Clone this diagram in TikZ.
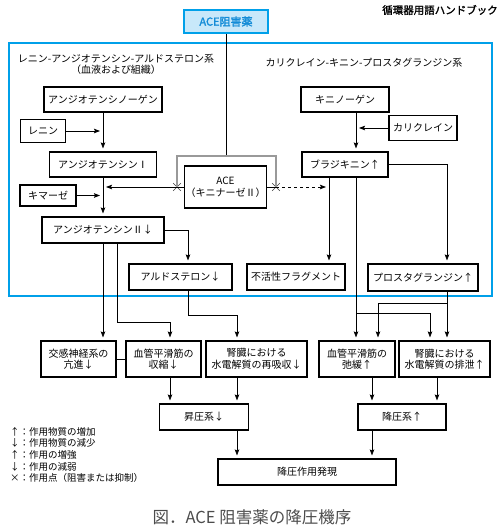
\documentclass[tikz,border=0pt]{standalone}
\usepackage{fontspec}
\setmainfont{Noto Sans CJK JP}
\newfontfamily\titlefont[FakeBold=1.6]{Noto Sans CJK JP}
\usepackage{xcolor}
\usetikzlibrary{arrows.meta,shapes.misc}
\definecolor{aceblue}{RGB}{0,160,233}
\definecolor{acefill}{RGB}{200,232,250}
\definecolor{acetext}{RGB}{20,140,215}

\begin{document}
\begin{tikzpicture}[
    x=1pt, y=-1pt,
    >={Stealth[length=6pt,width=4.5pt,inset=1pt]},
    font=\fontsize{10}{11.5}\selectfont,
    box/.style={draw, line width=1.1pt, inner sep=1pt, align=center},
    arrow/.style={->, line width=0.8pt, shorten >=3pt},
    link/.style={line width=0.8pt},
    stopmark/.style={cross out, draw, line width=0.6pt, minimum size=7pt,
                     inner sep=0pt},
  ]
  \useasboundingbox (0,0) rectangle (500,530);

  % drug and frame
  \node[font=\titlefont\fontsize{10.5}{12}\selectfont]
    (book) at (440,10) {循環器用語ハンドブック};
  \node[box, line width=1.8pt, draw=aceblue, fill=acefill, text=acetext,
        minimum width=84pt, minimum height=23pt,
        font=\titlefont\fontsize{11}{12}\selectfont] (acei) at (226,21.5) {ACE阻害薬};
  \draw[aceblue, line width=1.2pt] (9,43) rectangle (492,296);

  \node[align=center] (raas) at (116,64.5)
    {レニン-アンジオテンシン-アルドステロン系\\（血液および組織）};
  \node (kks) at (364,63) {カリクレイン-キニン-プロスタグランジン系};

  % left side
  \node[box, minimum width=118pt, minimum height=25pt] (agen) at (103,99.5) {アンジオテンシノーゲン};
  \node[box, minimum width=45pt, minimum height=23pt] (renin) at (43,131) {レニン};
  \node[box, minimum width=107pt, minimum height=25pt] (ang1) at (103,164.5) {アンジオテンシンⅠ};
  \node[box, minimum width=56pt, minimum height=21pt] (chym) at (48,195.5) {キマーゼ};
  \node[box, minimum width=122pt, minimum height=26pt] (ang2) at (103,230) {アンジオテンシンⅡ↓};
  \node[box, minimum width=103pt, minimum height=26pt] (aldo) at (180.5,277) {アルドステロン↓};

  % ACE
  \node[box, minimum width=81pt, minimum height=42pt] (ace) at (225.5,187)
    {ACE\\（キニナーゼⅡ）};
  \node[stopmark, draw=black!75] (xl) at (177,187) {};
  \node[stopmark, draw=black!75] (xr) at (276,187) {};
  \coordinate (brk) at (226,156);

  % right side
  \node[box, minimum width=88pt, minimum height=25pt] (kgen) at (345,99.5) {キニノーゲン};
  \node[box, minimum width=68pt, minimum height=25pt] (kallik) at (423,128) {カリクレイン};
  \node[box, minimum width=86pt, minimum height=25pt] (brady) at (345,164.5) {ブラジキニン↑};
  \node[box, minimum width=98pt, minimum height=26pt] (frag) at (296,277) {不活性フラグメント};
  \node[box, minimum width=110pt, minimum height=27pt] (pg) at (423,277.5) {プロスタグランジン↑};
  \coordinate (kx) at ([xshift=11pt]kgen.south);
  \coordinate (bx) at ([xshift=-16pt]brady.south);

  % effects
  \node[box, minimum width=75pt, minimum height=36pt] (symp) at (78.5,359) {交感神経系の\\亢進↓};
  \node[box, minimum width=75pt, minimum height=36pt] (vcon) at (163.5,359) {血管平滑筋の\\収縮↓};
  \node[box, minimum width=101pt, minimum height=36pt] (reab) at (256.5,359) {腎臓における\\水電解質の再吸収↓};
  \node[box, minimum width=76pt, minimum height=36pt] (vrel) at (357,359) {血管平滑筋の\\弛緩↑};
  \node[box, minimum width=91pt, minimum height=36pt] (excr) at (444.5,359) {腎臓における\\水電解質の排泄↑};
  \node[box, minimum width=89pt, minimum height=26pt] (pres) at (204,417) {昇圧系↓};
  \node[box, minimum width=88pt, minimum height=26pt] (depr) at (402,417) {降圧系↑};
  \node[box, minimum width=178pt, minimum height=26pt] (hypo) at (307,472) {降圧作用発現};

  \node[anchor=north west, align=left, inner sep=0pt,
        font=\fontsize{9.5}{11.6}\selectfont] (legend) at (10,427)
    {↑：作用物質の増加\\↓：作用物質の減少\\↑：作用の増強\\↓：作用の減弱\\×：作用点（阻害または抑制）};
  \node[text=black!70, font=\fontsize{16.5}{18}\selectfont] (caption) at (252,517)
    {図．ACE 阻害薬の降圧機序};

  % ACE inhibitor to ACE
  \draw[link] (acei.south) -- (brk);
  \draw[link, black!40, line width=1.2pt] (xl.center) |- (brk) -| (xr.center);

  % renin-angiotensin chain
  \draw[arrow] (agen.south) -- (ang1.north);
  \draw[arrow] (renin.east) -- (renin.east -| agen.south);
  \draw[arrow] (ang1.south) -- (ang2.north);
  \draw[arrow] (chym.east) -- (chym.east -| ang1.south);
  \draw[arrow] (ace.west) -- (ace.west -| ang1.south);
  \draw[arrow] (ang2.east) -| ([xshift=7.5pt]aldo.north);

  % kinin chain
  \draw[arrow] (kx) -- (kx |- brady.north);
  \draw[arrow] (kallik.west) -- (kallik.west -| kx);
  \draw[link] (ace.east) -- (xr.center);
  \draw[arrow, dashed] (xr.center) -- (xr.center -| bx);
  \draw[arrow] (bx) -- (bx |- frag.north);
  \draw[arrow] (brady.east) -| ([xshift=24pt]pg.north);

  % to the effects
  \draw[arrow] (ang2.south) -- (ang2.south |- symp.north);
  \draw[arrow] ([xshift=14pt]ang2.south) -- ++(0,79) -| ([xshift=6.5pt]vcon.north);
  \draw[arrow] ([xshift=7.5pt]aldo.south) -- ++(0,25) -| ([xshift=-19.5pt]reab.north);
  \draw[link] (symp.east) -- (vcon.west);
  \coordinate (kb) at (356,313);
  \coordinate (pb) at (447,303);
  \draw[arrow] (kx |- brady.south) -- (kx |- vrel.north);
  \draw[arrow] ([xshift=24pt]pg.south) -- ([xshift=24pt]pg.south |- excr.north);
  \draw[arrow] (kb) -| ([xshift=-14.5pt]excr.north);
  \draw[arrow] (pb) -| ([xshift=21pt]vrel.north);

  % pressure systems
  \draw[arrow] ([xshift=6.5pt]vcon.south) -- ([xshift=6.5pt]vcon.south |- pres.north);
  \draw[arrow] ([xshift=-19.5pt]reab.south) -- ([xshift=-19.5pt]reab.south |- pres.north);
  \draw[arrow] ([xshift=15pt]vrel.south) -- ([xshift=15pt]vrel.south |- depr.north);
  \draw[arrow] ([xshift=-7.5pt]excr.south) -- ([xshift=-7.5pt]excr.south |- depr.north);
  \draw[arrow] ([xshift=33pt]pres.south) -- ([xshift=33pt]pres.south |- hypo.north);
  \draw[arrow] ([xshift=-30pt]depr.south) -- ([xshift=-30pt]depr.south |- hypo.north);

\end{tikzpicture}
\end{document}
